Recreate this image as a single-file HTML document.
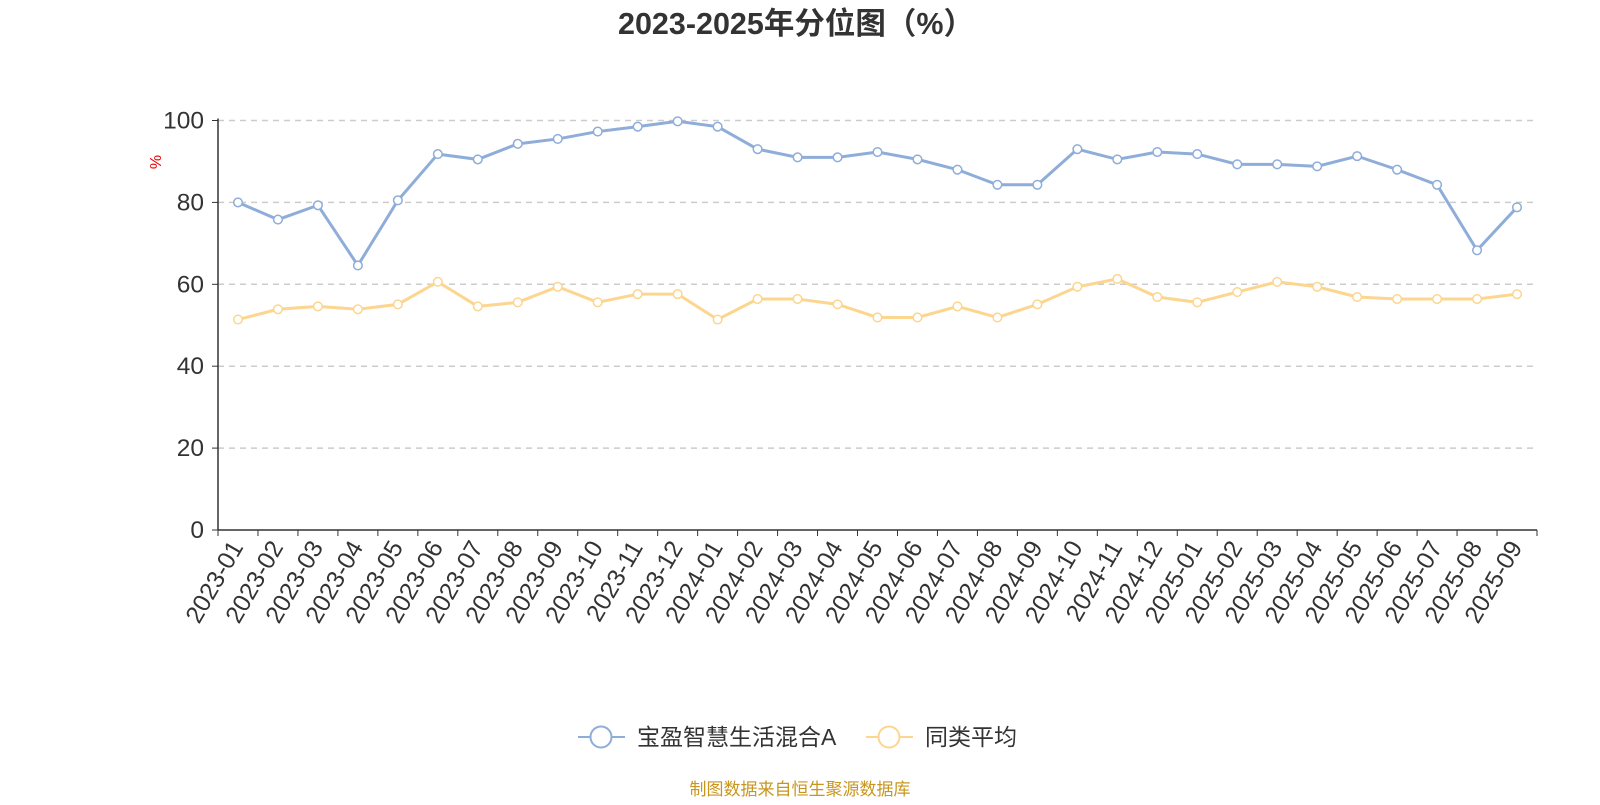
<!DOCTYPE html>
<html><head><meta charset="utf-8"><style>
body{margin:0;background:#fff;font-family:"Liberation Sans","Noto Sans CJK SC",sans-serif;}
</style></head><body>
<svg id="chart" width="1600" height="800" xmlns="http://www.w3.org/2000/svg">
<text x="796" y="34" text-anchor="middle" font-size="30.5" font-weight="bold" fill="#333" font-family="Liberation Sans,Noto Sans CJK SC,sans-serif">2023-2025年分位图（%）</text>
<text x="0" y="0" transform="translate(161,162) rotate(-90)" text-anchor="middle" font-size="16" fill="#e00">%</text>
<g id="grid"></g><g id="axes"></g><g id="series"></g>
<g>
<g>
<line x1="578" y1="737" x2="625" y2="737" stroke="#8eadd9" stroke-width="2"/><circle cx="601" cy="737" r="10.5" fill="#fff" stroke="#8eadd9" stroke-width="2"/>
<text x="637" y="745" font-size="23" fill="#333">宝盈智慧生活混合A</text></g>
<g>
<line x1="866" y1="737" x2="913" y2="737" stroke="#fcd68f" stroke-width="2"/><circle cx="889" cy="737" r="10.5" fill="#fff" stroke="#fcd68f" stroke-width="2"/>
<text x="925" y="745" font-size="23" fill="#333">同类平均</text></g>
</g>
<text x="800" y="795" text-anchor="middle" font-size="17" fill="#c8961e">制图数据来自恒生聚源数据库</text>
</svg>
<script>
const categories=["2023-01","2023-02","2023-03","2023-04","2023-05","2023-06","2023-07","2023-08","2023-09","2023-10","2023-11","2023-12","2024-01","2024-02","2024-03","2024-04","2024-05","2024-06","2024-07","2024-08","2024-09","2024-10","2024-11","2024-12","2025-01","2025-02","2025-03","2025-04","2025-05","2025-06","2025-07","2025-08","2025-09"];
const fundValues=[80,75.8,79.3,64.6,80.5,91.8,90.5,94.3,95.5,97.3,98.5,99.8,98.5,93,91,91,92.3,90.5,88,84.3,84.3,93,90.5,92.3,91.8,89.3,89.3,88.8,91.3,88,84.3,68.3,78.8];
const avgValues=[51.4,53.9,54.6,53.9,55.1,60.6,54.6,55.6,59.4,55.6,57.6,57.6,51.4,56.4,56.4,55.1,51.9,51.9,54.6,51.9,55.1,59.4,61.3,56.9,55.6,58.1,60.6,59.4,56.9,56.4,56.4,56.4,57.6];
const yTicks=[0,20,40,60,80,100];
const NS="http://www.w3.org/2000/svg";
const L=218,R=1537,T=120.5,B=530;
const bw=(R-L)/categories.length;
const xs=i=>L+bw*(i+0.5);
const ys=v=>B-(v/100)*(B-T);
function mk(tag,attrs,parent){const e=document.createElementNS(NS,tag);for(const k in attrs)e.setAttribute(k,attrs[k]);parent.appendChild(e);return e;}
const grid=document.getElementById('grid'),axes=document.getElementById('axes'),ser=document.getElementById('series');
yTicks.forEach(t=>{
  if(t>0){const g=mk('line',{x1:L,x2:R,y1:ys(t),y2:ys(t),stroke:'#ccc','stroke-dasharray':'6,5','stroke-width':1.5},grid);
  
  }
  mk('line',{x1:L-6,x2:L,y1:ys(t),y2:ys(t),stroke:'#333'},axes);
  const tx=mk('text',{x:L-14,y:ys(t)+8,'text-anchor':'end','font-size':24.5,fill:'#333'},axes);tx.textContent=t;
  
  
});
const ya=mk('line',{x1:L,x2:L,y1:T-2,y2:B,stroke:'#333','stroke-width':1.5},axes);


const xa=mk('line',{x1:L,x2:R,y1:B,y2:B,stroke:'#333','stroke-width':1.5},axes);


for(let i=0;i<=categories.length;i++){mk('line',{x1:L+bw*i,x2:L+bw*i,y1:B,y2:B+6,stroke:'#333'},axes);}
categories.forEach((c,i)=>{
  const x=xs(i)-1,y=B+13;
  const tx=mk('text',{x:x,y:y+8,'text-anchor':'end','font-size':24.5,fill:'#333',transform:`rotate(-60 ${x} ${y})`},axes);
  tx.textContent=c;
  
  
});
function draw(vals,color,name){
  const p=mk('polyline',{points:vals.map((v,i)=>xs(i)+','+ys(v)).join(' '),fill:'none',stroke:color,'stroke-width':3},ser);
  
  
  vals.forEach((v,i)=>{const c=mk('circle',{cx:xs(i),cy:ys(v),r:4.3,fill:'#fff',stroke:color,'stroke-width':1.5},ser);
    
    });
}
draw(avgValues,'#fcd68f','average');
draw(fundValues,'#8eadd9','fund');
</script>
</body></html>
